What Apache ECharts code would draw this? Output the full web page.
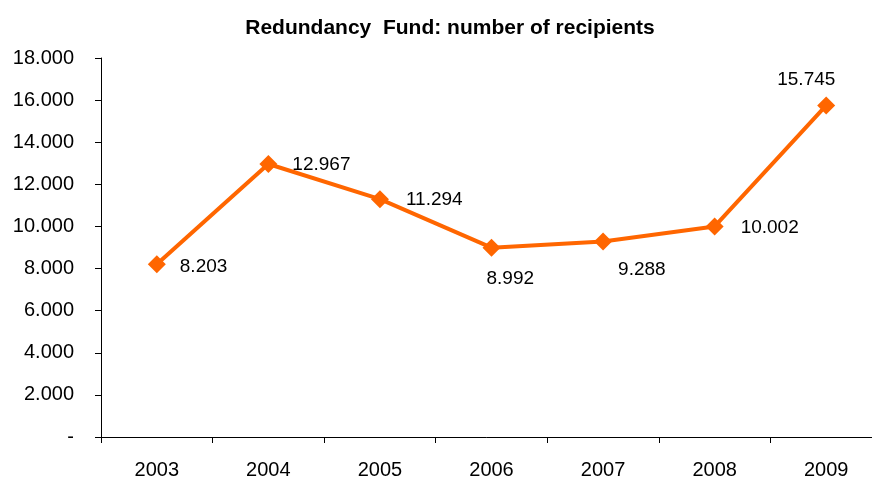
<!DOCTYPE html>
<html>
<head>
<meta charset="utf-8">
<script src="https://cdn.jsdelivr.net/npm/echarts@6/dist/echarts.min.js"></script>
<style>
  html, body { margin: 0; padding: 0; background: #fff; }
  #chart { width: 872px; height: 480px; }
</style>
</head>
<body>
<div id="chart"></div>
<script>
// 数据
var years = ["2003", "2004", "2005", "2006", "2007", "2008", "2009"];
var recipients = [8203, 12967, 11294, 8992, 9288, 10002, 15745];
// label offsets per point [x, y]
var labelOffsets = [[23, 2], [24, 1], [26, 1], [-5, 31], [15, 28], [26, 1], [-49, -26]];

function fmt(v) {
  if (v === 0) return "-";
  return String(v).replace(/\B(?=(\d{3})+(?!\d))/g, ".");
}

var chart = echarts.init(document.getElementById("chart"));
chart.setOption({
  backgroundColor: "#fff",
  animation: false,
  textStyle: { fontFamily: "Liberation Sans, Arial, sans-serif" },
  title: {
    text: "Redundancy  Fund: number of recipients",
    left: 445,
    textAlign: "center",
    top: 13,
    textStyle: { fontSize: 21, fontWeight: "bold", color: "#000" }
  },
  grid: {
    left: 101,
    top: 58,
    right: -10,
    bottom: 43,
    outerBoundsMode: "none",
    containLabel: false
  },
  xAxis: {
    type: "category",
    data: years,
    boundaryGap: true,
    axisLine: { lineStyle: { color: "#000", width: 1 } },
    axisTick: { show: true, length: 6, lineStyle: { color: "#000" } },
    axisLabel: { color: "#000", fontSize: 20, margin: 23 }
  },
  yAxis: {
    type: "value",
    min: 0,
    max: 18000,
    interval: 2000,
    axisLine: { show: true, lineStyle: { color: "#000", width: 1 } },
    axisTick: { show: true, length: 6, lineStyle: { color: "#000" } },
    axisLabel: { color: "#000", fontSize: 20, margin: 27, formatter: fmt },
    splitLine: { show: false }
  },
  series: [
    {
      type: "line",
      data: recipients.map(function (v, i) {
        return {
          value: v,
          label: { offset: labelOffsets[i] }
        };
      }),
      symbol: "diamond",
      symbolSize: 18,
      lineStyle: { color: "#FF6600", width: 4 },
      itemStyle: { color: "#FF6600" },
      label: {
        show: true,
        position: "inside",
        align: "left",
        color: "#000",
        fontSize: 19,
        formatter: function (p) { return fmt(p.value); }
      }
    }
  ]
});
</script>
</body>
</html>
